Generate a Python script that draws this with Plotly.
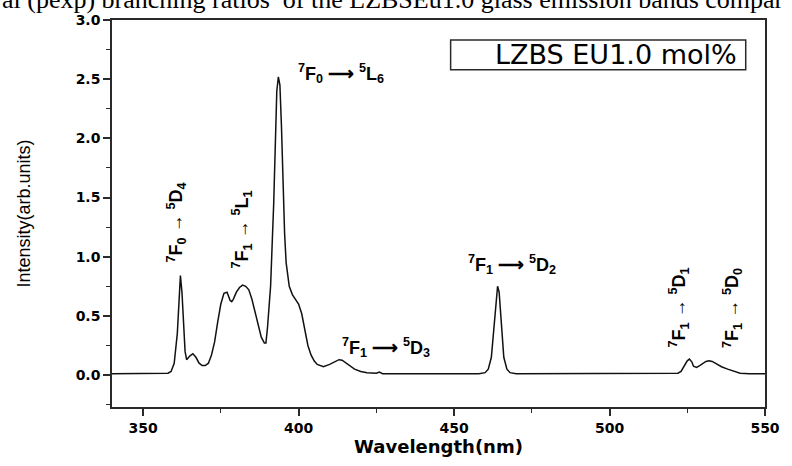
import plotly.graph_objects as go

# ---- data ----
wavelength = [340, 345, 350, 355, 357, 358, 359, 360, 361, 361.5, 362, 362.5, 363, 363.5, 364, 365, 366, 367,
              368, 369, 370, 371, 372, 373, 374, 375, 376, 377, 378, 378.5, 379, 380, 381, 382, 383, 384,
              385, 386, 387, 388, 389, 389.5, 390, 391, 392, 392.5, 393, 393.5, 394, 394.5, 395, 395.5,
              396, 397, 398, 399, 400, 401, 402, 403, 404, 405, 406, 408, 410, 412, 413, 414, 416, 418,
              420, 422, 425, 426, 427, 430, 440, 450, 458, 460, 461, 462, 463, 463.5, 464, 464.5, 465,
              465.5, 466, 467, 468, 470, 480, 490, 500, 510, 515, 520, 522, 523, 524, 525, 525.7, 526.5,
              527, 528, 529, 530, 531, 532, 533, 534, 535, 536, 538, 540, 542, 545, 550]
intensity = [0.01, 0.01, 0.01, 0.01, 0.012, 0.015, 0.03, 0.1, 0.35, 0.65, 0.84, 0.7, 0.4, 0.2, 0.13, 0.16, 0.18, 0.15,
             0.1, 0.08, 0.08, 0.1, 0.17, 0.28, 0.45, 0.6, 0.69, 0.7, 0.63, 0.62, 0.64, 0.7, 0.74, 0.76, 0.75, 0.72,
             0.64, 0.53, 0.42, 0.32, 0.27, 0.27, 0.4, 0.75, 1.45, 2.0, 2.4, 2.52, 2.45, 2.1, 1.6, 1.2,
             0.95, 0.75, 0.68, 0.64, 0.6, 0.52, 0.38, 0.25, 0.17, 0.12, 0.09, 0.07, 0.09, 0.12, 0.13, 0.125, 0.09, 0.05,
             0.03, 0.02, 0.015, 0.025, 0.012, 0.01, 0.01, 0.01, 0.01, 0.02, 0.05, 0.15, 0.45, 0.65, 0.75, 0.7, 0.5,
             0.3, 0.15, 0.05, 0.02, 0.01, 0.01, 0.01, 0.01, 0.01, 0.01, 0.01, 0.015, 0.03, 0.07, 0.12, 0.135, 0.11,
             0.075, 0.065, 0.08, 0.1, 0.115, 0.12, 0.115, 0.1, 0.085, 0.07, 0.05, 0.03, 0.015, 0.01, 0.01]
x_ticks = [350, 400, 450, 500, 550]
x_tick_labels = ["350", "400", "450", "500", "550"]
y_ticks = [0.0, 0.5, 1.0, 1.5, 2.0, 2.5, 3.0]
y_tick_labels = ["0.0", "0.5", "1.0", "1.5", "2.0", "2.5", "3.0"]
legend_label = "LZBS EU1.0 mol%"
caption = "al (pexp) branching ratios  of the LZBSEu1.0 glass emission bands compar"

AXC = "#2a2a2a"
fig = go.Figure()
fig.add_trace(go.Scatter(x=wavelength, y=intensity, mode="lines",
                         line=dict(color="#111111", width=1.5), showlegend=False, hoverinfo="skip"))

lab_font = dict(family="Liberation Sans", size=18, color="black", weight="bold")

def lab(text, x, y, angle=0):
    fig.add_annotation(x=x, y=y, xref="x", yref="y", text=text, showarrow=False,
                       textangle=angle, font=lab_font, xanchor="center", yanchor="middle")

lab("<sup>7</sup>F<sub>0</sub> → <sup>5</sup>D<sub>4</sub>", 360.6, 1.29, -90)
lab("<sup>7</sup>F<sub>1</sub> → <sup>5</sup>L<sub>1</sub>", 381.8, 1.23, -90)
lab("<sup>7</sup>F<sub>0</sub> ⟶ <sup>5</sup>L<sub>6</sub>", 413.8, 2.55)
lab("<sup>7</sup>F<sub>1</sub> ⟶ <sup>5</sup>D<sub>3</sub>", 428.0, 0.23)
lab("<sup>7</sup>F<sub>1</sub> ⟶ <sup>5</sup>D<sub>2</sub>", 468.5, 0.93)
lab("<sup>7</sup>F<sub>1</sub> → <sup>5</sup>D<sub>1</sub>", 522.3, 0.57, -90)
lab("<sup>7</sup>F<sub>1</sub> → <sup>5</sup>D<sub>0</sub>", 539.5, 0.57, -90)

# legend-like box
fig.add_shape(type="rect", xref="x", yref="y", x0=448.9, x1=543.8, y0=2.58, y1=2.83,
              line=dict(color=AXC, width=1.5), fillcolor="white")
fig.add_annotation(x=502.0, y=2.705, xref="x", yref="y", text=legend_label, showarrow=False,
                   font=dict(family="DejaVu Sans", size=27, color="black"))

# clipped caption at top of the page
fig.add_annotation(x=-0.172, y=1 + 21 / 389, xref="paper", yref="paper", text=caption, showarrow=False,
                   xanchor="left", yanchor="middle",
                   font=dict(family="Liberation Serif", size=26, color="black"))

tickfont = dict(family="DejaVu Sans", size=14, color="black", weight="bold")
fig.update_xaxes(range=[340, 550], tickmode="array", tickvals=x_ticks, ticktext=x_tick_labels,
                 ticks="outside", ticklen=7, tickwidth=1.5, tickcolor=AXC,
                 minor=dict(dtick=25, tick0=350, ticks="outside", ticklen=4, tickwidth=1.2, tickcolor=AXC),
                 showline=True, linecolor=AXC, linewidth=1.5, mirror=True,
                 showgrid=False, zeroline=False, tickfont=tickfont,
                 title=dict(text="Wavelength(nm)", standoff=6,
                            font=dict(family="DejaVu Sans", size=18, color="black", weight="bold")))
fig.update_yaxes(range=[-0.27, 3.0], tickmode="array", tickvals=y_ticks, ticktext=y_tick_labels,
                 ticks="outside", ticklen=7, tickwidth=1.5, tickcolor=AXC,
                 minor=dict(dtick=0.25, tick0=0, ticks="outside", ticklen=4, tickwidth=1.2, tickcolor=AXC),
                 showline=True, linecolor=AXC, linewidth=1.5, mirror=True,
                 showgrid=False, zeroline=False, tickfont=tickfont,
                 title=dict(text="Intensity(arb.units)", standoff=40,
                            font=dict(family="Liberation Sans", size=18, color="black")))
fig.update_layout(width=792, height=466, margin=dict(l=112, r=17, t=20, b=57),
                  plot_bgcolor="white", paper_bgcolor="white")
fig.write_html("out.html")
